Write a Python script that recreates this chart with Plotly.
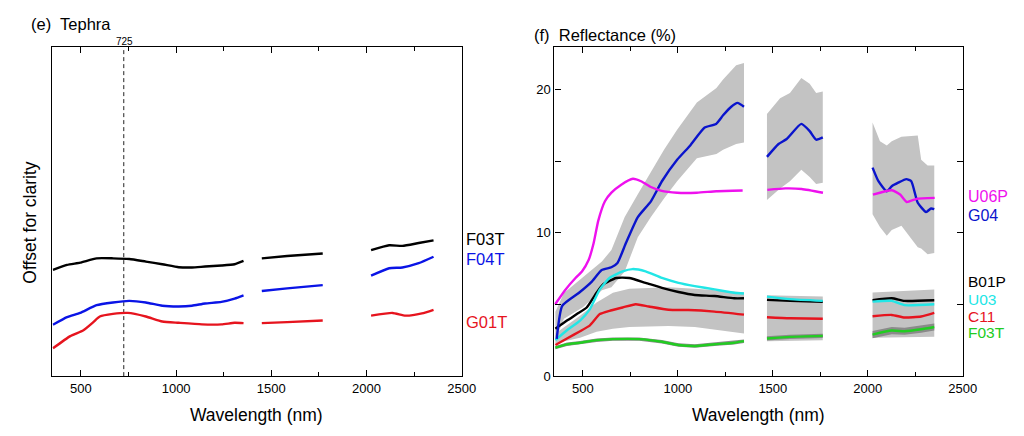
import plotly.graph_objects as go

# ---- (e) Tephra, offset spectra (arbitrary units) ----
tep_wl = [353, 427, 496, 582, 668, 754, 841, 927, 1014, 1083, 1152, 1238, 1307, 1354, None,
          1450, 1583, 1770, None,
          2024, 2119, 2188, 2274, 2352]
f03t_tep = [7.42, 7.76, 7.92, 8.22, 8.22, 8.17, 7.99, 7.81, 7.60, 7.58, 7.65, 7.72, 7.81, 8.04, None,
            8.22, 8.38, 8.56, None,
            8.79, 9.13, 9.09, 9.29, 9.47]
f04t_tep = [3.58, 4.11, 4.41, 4.95, 5.14, 5.25, 5.14, 4.91, 4.86, 4.91, 5.07, 5.18, 5.41, 5.64, None,
            5.94, 6.12, 6.35, None,
            7.01, 7.53, 7.58, 7.88, 8.33]
g01t_wl = [353, 444, 513, 565, 599, 668, 746, 841, 927, 1014, 1135, 1238, 1307, 1354, None,
           1450, 1583, 1770, None,
           2024, 2136, 2205, 2291, 2352]
g01t_tep = [1.94, 2.79, 3.20, 3.77, 4.16, 4.34, 4.41, 4.16, 3.81, 3.72, 3.61, 3.61, 3.72, 3.70, None,
            3.70, 3.77, 3.88, None,
            4.22, 4.41, 4.22, 4.38, 4.63]

# ---- (f) Reflectance (%) ----
g04_wl = [362, 391, 478, 547, 599, 650, 682, 727, 789, 858, 916, 996, 1065, 1141, 1201, 1238, 1281, 1314, 1348, None,
          1469, 1530, 1573, 1650, 1694, 1728, 1763, None,
          2025, 2056, 2100, 2126, 2160, 2203, 2229, 2263, 2307, 2333, 2350]
g04 = [2.6, 4.9, 5.8, 6.6, 7.4, 7.6, 7.9, 9.3, 11.1, 12.2, 13.6, 15.1, 16.1, 17.35, 17.6, 18.2, 18.8, 19.07, 18.8, None,
       15.3, 16.2, 16.55, 17.6, 17.1, 16.5, 16.66, None,
       14.55, 13.6, 12.9, 13.25, 13.5, 13.75, 13.6, 12.1, 11.45, 11.7, 11.65]

g04_band_wl = [355, 400, 500, 600, 650, 720, 789, 858, 927, 996, 1100, 1203, 1238, 1307, 1348, None,
               1469, 1538, 1590, 1650, 1694, 1728, 1763, None,
               2025, 2064, 2100, 2126, 2177, 2263, 2281, 2315, 2350]
g04_hi = [4.5, 5.8, 6.9, 8.0, 8.8, 11.1, 12.7, 14.3, 15.8, 17.2, 19.1, 20.1, 20.7, 21.7, 21.85, None,
          18.3, 19.4, 19.75, 20.8, 20.4, 19.75, 19.86, None,
          17.7, 16.4, 16.1, 16.4, 16.7, 16.8, 15.1, 14.7, 14.7]
g04_lo = [2.5, 4.0, 4.8, 6.0, 6.2, 7.3, 9.7, 11.1, 12.4, 13.6, 15.2, 15.5, 15.8, 16.2, 16.3, None,
          12.3, 13.1, 13.6, 14.4, 13.9, 13.4, 13.5, None,
          11.3, 10.4, 9.8, 10.2, 10.5, 9.0, 8.9, 8.5, 8.6]

u06p_wl = [353, 409, 461, 495, 530, 556, 581, 616, 650, 702, 763, 806, 858, 910, 996, 1100, 1203, 1341, None,
           1471, 1566, 1652, 1764, None,
           2027, 2127, 2170, 2205, 2257, 2352]
u06p = [5.0, 6.05, 6.85, 7.3, 8.1, 9.25, 10.85, 12.2, 12.8, 13.36, 13.77, 13.6, 13.2, 12.95, 12.8, 12.8, 12.9, 12.95, None,
        13.0, 13.1, 13.06, 12.8, None,
        12.67, 12.97, 12.67, 12.15, 12.37, 12.44]

u03_wl = [355, 416, 485, 537, 589, 640, 709, 761, 830, 916, 1003, 1089, 1193, 1296, 1348, None,
          1469, 1590, 1763, None,
          2025, 2126, 2194, 2350]
u03 = [2.51, 3.2, 3.88, 4.68, 6.05, 6.85, 7.31, 7.47, 7.31, 6.85, 6.51, 6.28, 6.05, 5.82, 5.77, None,
       5.55, 5.37, 5.25, None,
       5.2, 5.25, 4.95, 5.02]

b01p_wl = [355, 416, 468, 520, 572, 606, 675, 744, 830, 916, 1003, 1089, 1193, 1296, 1348, None,
           1469, 1590, 1763, None,
           2025, 2126, 2194, 2350]
b01p = [3.31, 3.88, 4.33, 4.79, 5.82, 6.39, 6.85, 6.85, 6.51, 6.16, 5.87, 5.66, 5.59, 5.43, 5.43, None,
        5.32, 5.25, 5.18, None,
        5.3, 5.43, 5.25, 5.3]

c11_wl = [355, 416, 485, 537, 589, 640, 709, 778, 847, 951, 1055, 1193, 1348, None,
          1469, 1590, 1763, None,
          2025, 2126, 2194, 2281, 2350]
c11 = [2.17, 2.63, 3.13, 3.54, 4.33, 4.56, 4.79, 5.02, 4.86, 4.63, 4.61, 4.5, 4.29, None,
       4.11, 4.04, 4.0, None,
       4.18, 4.27, 4.09, 4.16, 4.41]

c11_band_wl = [355, 485, 572, 658, 744, 951, 1089, 1348, None,
               1469, 1763, None,
               2025, 2194, 2350]
c11_hi = [2.97, 4.22, 5.14, 5.82, 6.1, 6.2, 6.1, 5.85, None,
          5.65, 5.55, None,
          5.83, 5.95, 6.05]
c11_lo = [2.3, 2.67, 3.1, 3.3, 3.42, 3.5, 3.42, 2.97, None,
          2.44, 2.5, None,
          2.67, 2.7, 2.74]

f03t_wl = [355, 416, 485, 572, 658, 796, 916, 1003, 1089, 1193, 1296, 1348, None,
           1469, 1590, 1763, None,
           2025, 2126, 2194, 2281, 2350]
f03t = [1.99, 2.22, 2.33, 2.51, 2.58, 2.58, 2.4, 2.17, 2.1, 2.22, 2.33, 2.44, None,
        2.63, 2.74, 2.81, None,
        2.9, 3.18, 3.13, 3.27, 3.43]
f03t_sd = [0.12, 0.12, 0.12, 0.12, 0.12, 0.12, 0.12, 0.12, 0.12, 0.12, 0.12, 0.12, None,
           0.15, 0.15, 0.15, None,
           0.25, 0.25, 0.25, 0.25, 0.25]

BAND = '#c3c3c3'
DARK = '#8a8a8a'


def segments(xs, *cols):
    out, cur = [], []
    for i, x in enumerate(xs):
        if x is None:
            out.append(cur)
            cur = []
        else:
            cur.append((x,) + tuple(c[i] for c in cols))
    out.append(cur)
    return out


def band_polygon(xs, hi, lo):
    px, py = [], []
    for seg in segments(xs, hi, lo):
        px += [s[0] for s in seg] + [s[0] for s in seg[::-1]] + [None]
        py += [s[1] for s in seg] + [s[2] for s in seg[::-1]] + [None]
    return px[:-1], py[:-1]


fig = go.Figure()


def line(x, y, color, axis, width=2.4):
    fig.add_trace(go.Scatter(x=x, y=y, mode='lines', line=dict(color=color, width=width, shape='spline', smoothing=0.5),
                             connectgaps=False, showlegend=False, hoverinfo='skip',
                             xaxis='x' if axis == 1 else 'x2', yaxis='y' if axis == 1 else 'y2'))


def band(x, hi, lo, color):
    bx, by = band_polygon(x, hi, lo)
    fig.add_trace(go.Scatter(x=bx, y=by, mode='lines', fill='toself', fillcolor=color,
                             line=dict(width=0, color=color),
                             showlegend=False, hoverinfo='skip', xaxis='x2', yaxis='y2'))


# left panel
fig.add_trace(go.Scatter(x=[725, 725], y=[0, 22.95], mode='lines', line=dict(color='#222', width=1, dash='4px,3px'),
                         showlegend=False, hoverinfo='skip'))
line(tep_wl, f03t_tep, 'black', 1)
line(tep_wl, f04t_tep, '#0a14e6', 1)
line(g01t_wl, g01t_tep, '#e6141e', 1)

# right panel
band(c11_band_wl, c11_hi, c11_lo, BAND)
band(g04_band_wl, g04_hi, g04_lo, BAND)
band(f03t_wl, [None if v is None else v + d for v, d in zip(f03t, f03t_sd)],
     [None if v is None else v - d for v, d in zip(f03t, f03t_sd)], DARK)
line(f03t_wl, f03t, '#22cc22', 2)
line(c11_wl, c11, '#e6141e', 2)
line(b01p_wl, b01p, 'black', 2)
line(u03_wl, u03, '#22e6e6', 2)
line(g04_wl, g04, '#0a14cc', 2)
line(u06p_wl, u06p, '#ee11ee', 2)

axis_common = dict(showline=True, linecolor='black', linewidth=1.3, mirror='ticks', ticks='inside',
                   ticklen=6, tickcolor='black', showgrid=False, zeroline=False,
                   tickfont=dict(size=13, color='black'))
xcommon = dict(axis_common, range=[350, 2500], tickvals=[500, 1000, 1500, 2000, 2500],
               minor=dict(tickvals=[750, 1250, 1750, 2250], ticks='inside', ticklen=4, tickcolor='black'))

H = 436
fig.update_layout(
    width=1024, height=436, margin=dict(l=0, r=0, t=0, b=0),
    paper_bgcolor='white', plot_bgcolor='white',
    font=dict(family='Liberation Sans, Arial, sans-serif', color='black'),
    xaxis=dict(xcommon, domain=[45 / 1024, 460 / 1024], anchor='y'),
    yaxis=dict(axis_common, domain=[1 - 375 / H, 1 - 40 / H], range=[0, 22.95], ticks='', showticklabels=False, anchor='x'),
    xaxis2=dict(xcommon, domain=[554 / 1024, 968 / 1024], anchor='y2'),
    yaxis2=dict(axis_common, domain=[1 - 375 / H, 1 - 40 / H], range=[0, 22.95], anchor='x2',
                tickvals=[0, 5, 10, 15, 20], ticktext=['0', '', '10', '', '20']),
)


def note(text, xpx, ypx, size, color='black', xanchor='left', angle=0):
    fig.add_annotation(text=text, x=xpx / 1024, y=1 - ypx / H, xref='paper', yref='paper', showarrow=False,
                       xanchor=xanchor, yanchor='middle', font=dict(size=size, color=color), textangle=angle,
                       borderpad=0)


note('(e)  Tephra', 22, 16, 16.5)
note('(f)  Reflectance (%)', 532, 27, 16.5)
note('725', 118, 34, 10, xanchor='center')
note('Wavelength (nm)', 252, 415, 17.5, xanchor='center')
note('Wavelength (nm)', 761, 415, 17.5, xanchor='center')
note('Offset for clarity', 22, 219, 17.5, xanchor='center', angle=-90)

note('F03T', 463, 235, 16.5)
note('F04T', 463, 256, 16.5, '#0a14e6')
note('G01T', 463, 320, 16.5, '#e6141e')

note('U06P', 972, 192, 16, '#ee11ee')
note('G04', 972, 211, 16, '#0a14cc')
note('B01P', 972, 279, 15.5)
note('U03', 972, 297, 15.5, '#22e6e6')
note('C11', 972, 314, 15.5, '#e6141e')
note('F03T', 972, 331, 15.5, '#22cc22')

fig.write_html("out.html")
